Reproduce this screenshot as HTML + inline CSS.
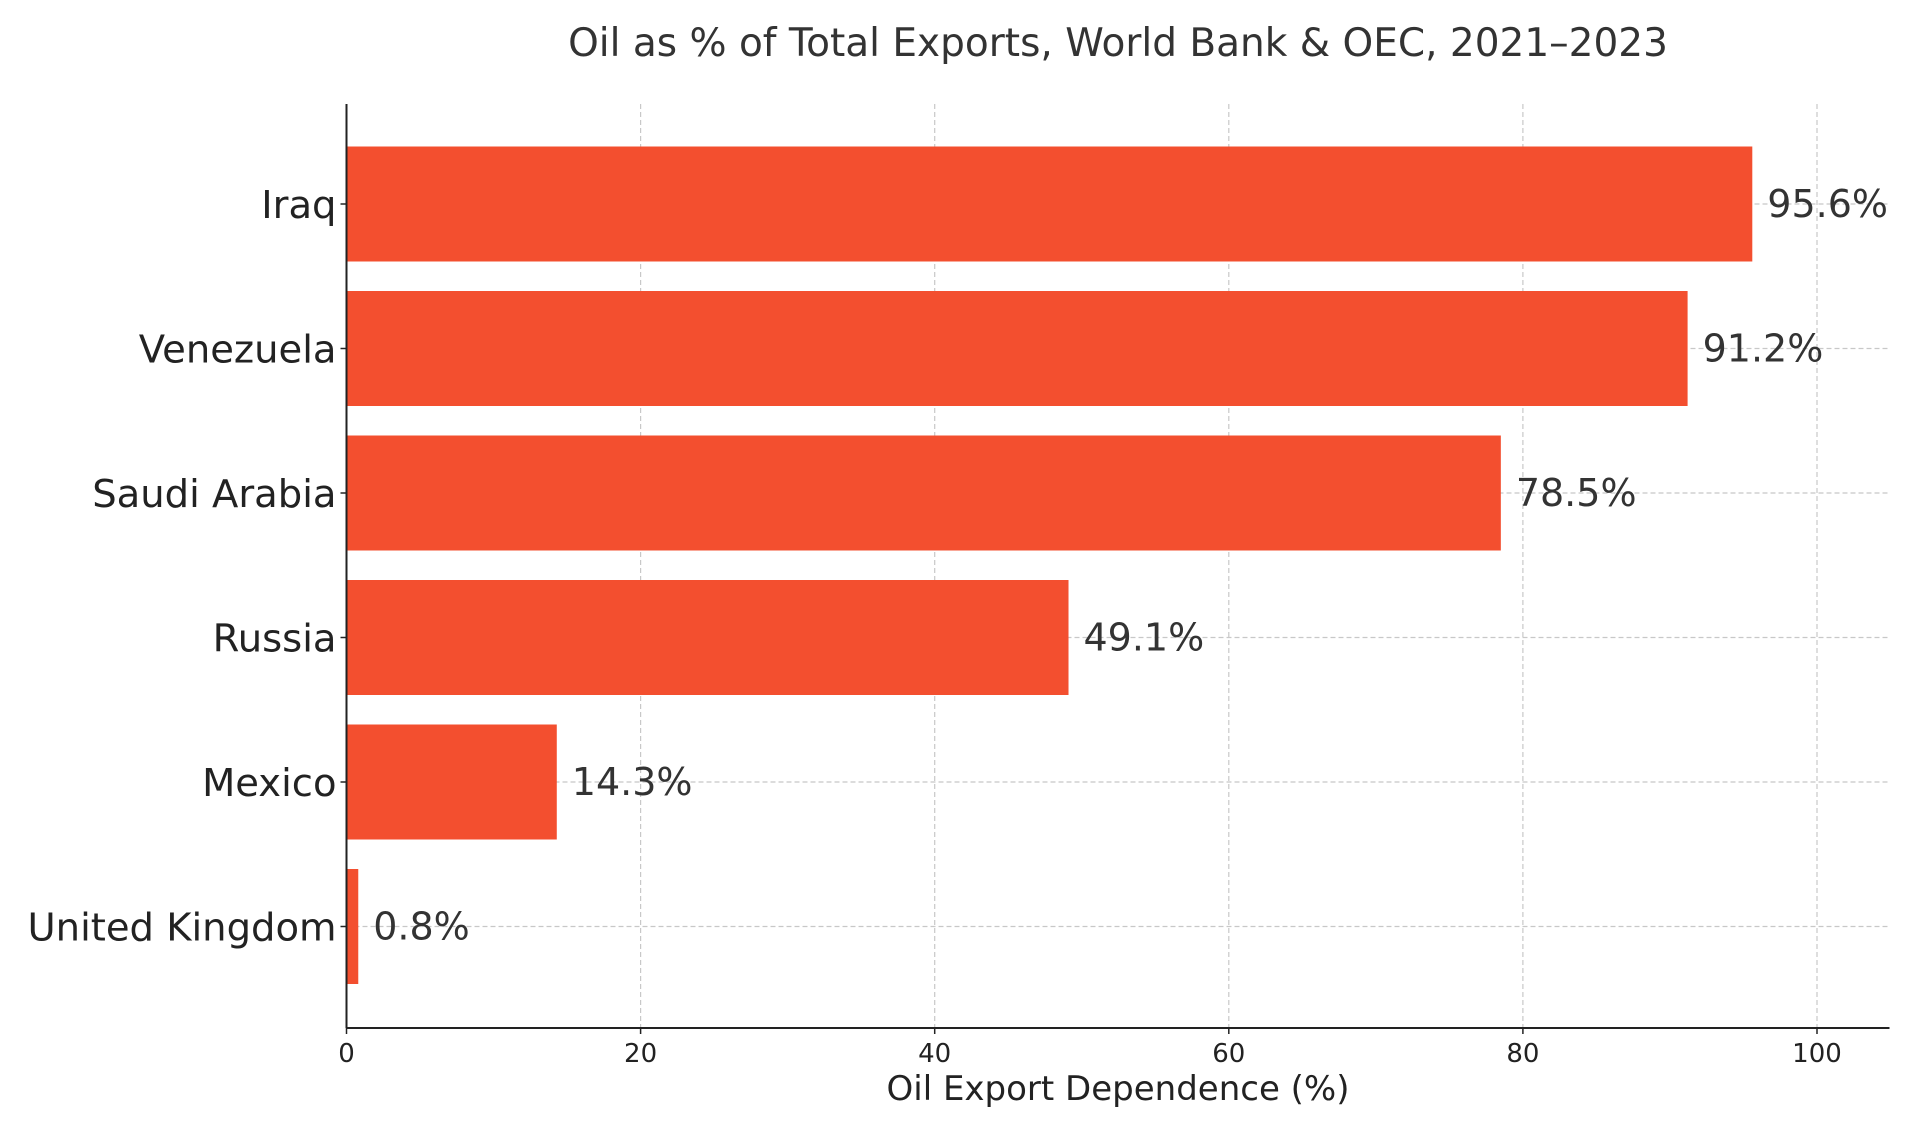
<!DOCTYPE html>
<html><head><meta charset="utf-8"><style>
html,body{margin:0;padding:0;background:#fff;}
svg{display:block;font-family:"DejaVu Sans","Liberation Sans",sans-serif;}
</style></head><body>
<svg id="chart" width="1920" height="1135" viewBox="0 0 1920 1135" xmlns="http://www.w3.org/2000/svg">
<text x="1118" y="56" text-anchor="middle" font-size="39" fill="#333">Oil as % of Total Exports, World Bank &amp; OEC, 2021–2023</text>
<g id="grid"></g><g id="bars"></g><g id="axes"></g>
<text x="1118" y="1100" text-anchor="middle" font-size="34" fill="#222">Oil Export Dependence (%)</text>
</svg>
<script>
const categories = ["Iraq","Venezuela","Saudi Arabia","Russia","Mexico","United Kingdom"];
const values = [95.6, 91.2, 78.5, 49.1, 14.3, 0.8];
const labels = ["95.6%","91.2%","78.5%","49.1%","14.3%","0.8%"];
const ticks = [0,20,40,60,80,100];
const NS="http://www.w3.org/2000/svg";
const L=346.5,R=1889.5,T=104,B=1028;
const x=v=>L+(v/100)*(1817-L);
const y0=204,step=144.5,bh=115;
const yc=i=>y0+i*step;
function mk(tag,attrs,parent,text){const e=document.createElementNS(NS,tag);for(const k in attrs)e.setAttribute(k,attrs[k]);if(text!==undefined)e.textContent=text;document.getElementById(parent).appendChild(e);return e;}
ticks.forEach(t=>{
 const g=mk('line',{x1:x(t),x2:x(t),y1:T,y2:B,stroke:'#c8c8c8','stroke-width':1.2,'stroke-dasharray':'5,3'},'grid');
 
 
 const tk=mk('line',{x1:x(t),x2:x(t),y1:B,y2:B+6,stroke:'#222','stroke-width':1.5},'axes');
 
 
 const tl=mk('text',{x:x(t),y:B+34,'text-anchor':'middle','font-size':26,fill:'#222'},'axes',String(t));
 
 
});
categories.forEach((c,i)=>{
 const g=mk('line',{x1:L,x2:R,y1:yc(i),y2:yc(i),stroke:'#c8c8c8','stroke-width':1.2,'stroke-dasharray':'5,3'},'grid');
 
 
 const b=mk('rect',{x:L,y:yc(i)-bh/2,width:x(values[i])-L,height:bh,fill:'#f34f2f'},'bars');
 
 
 const v=mk('text',{x:x(values[i])+15,y:yc(i)+13,'font-size':38,fill:'#333'},'bars',labels[i]);
 
 
 const tk=mk('line',{x1:L-6,x2:L,y1:yc(i),y2:yc(i),stroke:'#222','stroke-width':1.5},'axes');
 
 
 const cl=mk('text',{x:L-10,y:yc(i)+14,'text-anchor':'end','font-size':38.5,fill:'#222'},'axes',c);
 
 
});
const ay=mk('line',{x1:L,x2:L,y1:T,y2:B,stroke:'#222','stroke-width':2},'axes');


const ax=mk('line',{x1:L,x2:R,y1:B,y2:B,stroke:'#222','stroke-width':2},'axes');


</script>
</body></html>
